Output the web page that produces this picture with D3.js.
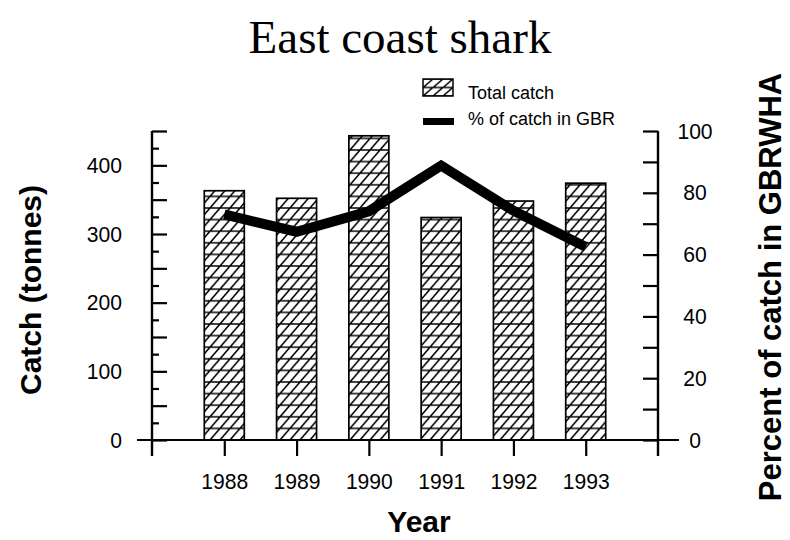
<!DOCTYPE html>
<html>
<head>
<meta charset="utf-8">
<script src="https://cdn.jsdelivr.net/npm/d3@7/dist/d3.min.js"></script>
<style>
  html, body { margin: 0; padding: 0; background: #fff; }
  svg { display: block; }
  text { fill: #000; }
</style>
</head>
<body>
<svg id="chart" width="790" height="540"></svg>
<script>
// ---- data ----
const years = ["1988", "1989", "1990", "1991", "1992", "1993"];
const totalCatch = [363, 352, 443, 324, 348, 374];       // tonnes
const pctInGBR = [73, 67.4, 74, 88.8, 74.2, 62.5];        // percent
const leftTicks = [0, 100, 200, 300, 400];
const rightTicks = [0, 20, 40, 60, 80, 100];
const title = "East coast shark";
const yLeftTitle = "Catch (tonnes)";
const yRightTitle = "Percent of catch in GBRWHA";
const xTitle = "Year";
const legendLabels = ["Total catch", "% of catch in GBR"];

// ---- layout ----
const svg = d3.select("#chart");
const L = 152, R = 658, B = 440, T = 131;
const sans = "'Liberation Sans', Arial, Helvetica, sans-serif";

const x = d3.scalePoint().domain(years).range([L, R]).padding(1);
const yL = d3.scaleLinear().domain([0, 450]).range([B, T]);
const yR = d3.scaleLinear().domain([0, 100]).range([B, T]);

// hatch pattern
const pw = 10, ph = 11.6;
const defs = svg.append("defs");
const pat = defs.append("pattern")
  .attr("id", "hatch").attr("patternUnits", "userSpaceOnUse")
  .attr("x", 0).attr("y", B).attr("width", pw).attr("height", ph);
pat.append("rect").attr("width", pw).attr("height", ph).attr("fill", "#fff");
pat.append("path")
  .attr("d", `M0,${ph}L${pw},0M${-pw},${ph}L0,0M${pw},${ph}L${2*pw},0M0,0H${pw}M0,${ph}H${pw}`)
  .attr("stroke", "#000").attr("stroke-width", 1.5).attr("fill", "none");

const pat2 = defs.append("pattern")
  .attr("id", "hatchLegend").attr("patternUnits", "userSpaceOnUse")
  .attr("x", 423).attr("y", 79).attr("width", pw).attr("height", 8.5);
pat2.append("rect").attr("width", pw).attr("height", 8.5).attr("fill", "#fff");
pat2.append("path")
  .attr("d", `M0,8.5L${pw},0M${-pw},8.5L0,0M${pw},8.5L${2*pw},0M0,0H${pw}M0,8.5H${pw}`)
  .attr("stroke", "#000").attr("stroke-width", 1.5).attr("fill", "none");

// title
svg.append("text")
  .attr("x", 400).attr("y", 53)
  .attr("text-anchor", "middle")
  .style("font-family", "'Liberation Serif', 'Times New Roman', serif")
  .style("font-size", "47px")
  .text(title);

// bars
const bw = 40;
svg.append("g").selectAll("rect")
  .data(years)
  .join("rect")
  .attr("x", d => x(d) - bw / 2)
  .attr("y", (d, i) => yL(totalCatch[i]))
  .attr("width", bw)
  .attr("height", (d, i) => B - yL(totalCatch[i]))
  .attr("fill", "url(#hatch)")
  .attr("stroke", "#000")
  .attr("stroke-width", 1.7);

// line
const line = d3.line()
  .x((d, i) => x(years[i]))
  .y(d => yR(d));
svg.append("path")
  .datum(pctInGBR)
  .attr("d", line)
  .attr("fill", "none")
  .attr("stroke", "#000")
  .attr("stroke-width", 10)
  .attr("stroke-linejoin", "miter");

// axes
function styleAxis(g) {
  g.select(".domain").remove();
  g.selectAll(".tick line").attr("stroke", "#000").attr("stroke-width", 2.2);
}
const tickFont = "22px";
const sx = 0.96;

// left major
svg.append("g").attr("transform", `translate(${L},0)`)
  .call(d3.axisLeft(yL).tickValues(d3.range(0, 451, 50)).tickSize(-15).tickSizeOuter(0)
    .tickFormat(d => leftTicks.includes(d) ? d : ""))
  .call(styleAxis)
  .call(g => g.selectAll(".tick text")
    .style("font-family", sans).style("font-size", tickFont)
    .attr("text-anchor", "end")
    .attr("x", -30 / sx)
    .attr("transform", `scale(${sx},1)`));
// left minor
svg.append("g").attr("transform", `translate(${L},0)`)
  .call(d3.axisLeft(yL).tickValues(d3.range(25, 451, 50)).tickSize(-7).tickSizeOuter(0).tickFormat(""))
  .call(styleAxis);

// right
svg.append("g").attr("transform", `translate(${R},0)`)
  .call(d3.axisRight(yR).tickValues(d3.range(0, 101, 10)).tickSize(-15).tickSizeOuter(0)
    .tickFormat(d => rightTicks.includes(d) ? d : ""))
  .call(styleAxis)
  .call(g => g.selectAll(".tick text")
    .style("font-family", sans).style("font-size", tickFont)
    .attr("text-anchor", "middle")
    .attr("x", 37 / sx)
    .attr("transform", `scale(${sx},1)`));

// bottom
svg.append("g").attr("transform", `translate(0,${B})`)
  .call(d3.axisBottom(x).tickSize(16).tickSizeOuter(0).tickPadding(17))
  .call(styleAxis)
  .call(g => g.selectAll(".tick text")
    .style("font-family", sans).style("font-size", tickFont)
    .attr("transform", `scale(${sx},1)`));

// axis lines
const axisStroke = 2.4;
svg.append("line").attr("x1", L).attr("x2", L).attr("y1", T).attr("y2", 456)
  .attr("stroke", "#000").attr("stroke-width", axisStroke);
svg.append("line").attr("x1", R).attr("x2", R).attr("y1", T).attr("y2", 456)
  .attr("stroke", "#000").attr("stroke-width", axisStroke);
svg.append("line").attr("x1", 137).attr("x2", 679).attr("y1", B).attr("y2", B)
  .attr("stroke", "#000").attr("stroke-width", 2);

// axis titles
svg.append("text")
  .attr("transform", "translate(41,290) rotate(-90)")
  .attr("text-anchor", "middle")
  .style("font-family", sans).style("font-size", "30px").style("font-weight", "bold")
  .text(yLeftTitle);
svg.append("text")
  .attr("transform", "translate(781,287) rotate(-90)")
  .attr("text-anchor", "middle")
  .style("font-family", sans).style("font-size", "31px").style("font-weight", "bold")
  .text(yRightTitle);
svg.append("text")
  .attr("x", 419).attr("y", 532)
  .attr("text-anchor", "middle")
  .style("font-family", sans).style("font-size", "30px").style("font-weight", "bold")
  .text(xTitle);

// legend
const lg = svg.append("g");
lg.append("rect").attr("x", 423).attr("y", 79).attr("width", 30).attr("height", 17)
  .attr("fill", "url(#hatchLegend)").attr("stroke", "#000").attr("stroke-width", 1.5);
lg.append("text").attr("x", 468).attr("y", 99)
  .style("font-family", sans).style("font-size", "18px")
  .text(legendLabels[0]);
lg.append("rect").attr("x", 423).attr("y", 118).attr("width", 31).attr("height", 7)
  .attr("fill", "#000");
lg.append("text").attr("x", 468).attr("y", 125)
  .style("font-family", sans).style("font-size", "18px")
  .text(legendLabels[1]);
</script>
</body>
</html>
